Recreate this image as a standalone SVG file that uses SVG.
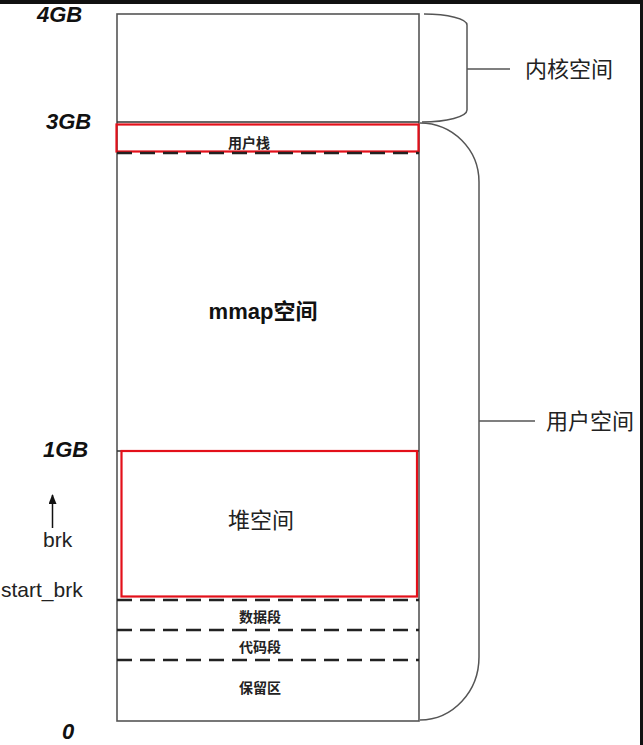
<svg xmlns="http://www.w3.org/2000/svg" width="643" height="745" viewBox="0 0 643 745">
<defs>
<style>
.frame{fill:none;stroke:#555;stroke-width:1.6}
.sep{stroke:#333;stroke-width:1.5}
.dash{stroke:#222;stroke-width:2.4;stroke-dasharray:15 8}
.red{fill:none;stroke:#e3101a;stroke-width:2.2}
.brace{fill:none;stroke:#555;stroke-width:1.5}
.gb{font-family:"Liberation Sans",Arial,sans-serif;font-weight:bold;font-style:italic;font-size:22px;fill:#111}
.lbl{font-family:"Liberation Sans",Arial,sans-serif;font-size:21px;fill:#222}
.cjk{font-family:"Noto Sans CJK SC","Noto Sans",sans-serif;fill:#222}
.small{font-size:14px;font-weight:bold}
</style>
<marker id="arr" markerWidth="10" markerHeight="8" refX="9" refY="4" orient="auto" markerUnits="userSpaceOnUse" viewBox="0 0 10 8">
<path d="M0,0 L10,4 L0,8 Z" fill="#111"/>
</marker>
</defs>
<rect x="0" y="0" width="643" height="745" fill="#fff"/>
<rect x="0" y="0" width="643" height="4" fill="#111"/>
<rect x="640" y="0" width="3" height="745" fill="#111"/>

<g id="memory">
<rect class="frame" x="117" y="14" width="302" height="707"/>
<line class="sep" x1="117" y1="122" x2="419" y2="122" stroke="#666"/>
<line class="sep" x1="117" y1="451" x2="419" y2="451"/>
</g>

<g id="kernel-space">
<text class="gb" x="37" y="22">4GB</text>
<text class="gb" x="46" y="129">3GB</text>
</g>

<g id="user-stack">
<rect class="red" x="116.5" y="124.5" width="302" height="27"/>
<line class="dash" x1="117" y1="153" x2="419" y2="153"/>
<text class="cjk small" x="249" y="148" text-anchor="middle">用户栈</text>
</g>

<g id="mmap">
<text x="263" y="319" text-anchor="middle" style="font-family:'Liberation Sans','Noto Sans CJK SC',sans-serif;font-weight:bold;font-size:22px;fill:#111">mmap<tspan style="font-family:'Noto Sans CJK SC',sans-serif">空间</tspan></text>
</g>

<g id="heap">
<rect class="red" x="121.5" y="451" width="295.5" height="145.5"/>
<text class="cjk" x="261" y="528" text-anchor="middle" font-size="22">堆空间</text>
<text class="gb" x="43" y="457">1GB</text>
</g>

<g id="brk">
<line x1="52.5" y1="528" x2="52.5" y2="495" stroke="#111" stroke-width="1.5" marker-end="url(#arr)"/>
<text class="lbl" x="43" y="547">brk</text>
<text class="lbl" x="1" y="597">start_brk</text>
</g>

<g id="data-segment">
<line class="dash" x1="117" y1="600" x2="419" y2="600"/>
<text class="cjk small" x="260" y="622" text-anchor="middle">数据段</text>
</g>

<g id="code-segment">
<line class="dash" x1="117" y1="630" x2="419" y2="630"/>
<text class="cjk small" x="260" y="652" text-anchor="middle">代码段</text>
</g>

<g id="reserved">
<line class="dash" x1="117" y1="660" x2="419" y2="660"/>
<text class="cjk small" x="260" y="693" text-anchor="middle">保留区</text>
<text class="gb" x="62" y="739">0</text>
</g>

<g id="connectors">
<path class="brace" d="M424,14 A43,11 0 0 1 467,25 L467,110 A45,12 0 0 1 422,122"/>
<line class="brace" x1="467" y1="69" x2="510" y2="69"/>
<path class="brace" d="M420,123 A59,59 0 0 1 479,182 L479,657 A59,63 0 0 1 420,720"/>
<line class="brace" x1="479" y1="421" x2="535" y2="421"/>
</g>

<g id="labels">
<text class="cjk" x="525" y="77" font-size="22">内核空间</text>
<text class="cjk" x="546" y="429" font-size="22">用户空间</text>
</g>
</svg>
